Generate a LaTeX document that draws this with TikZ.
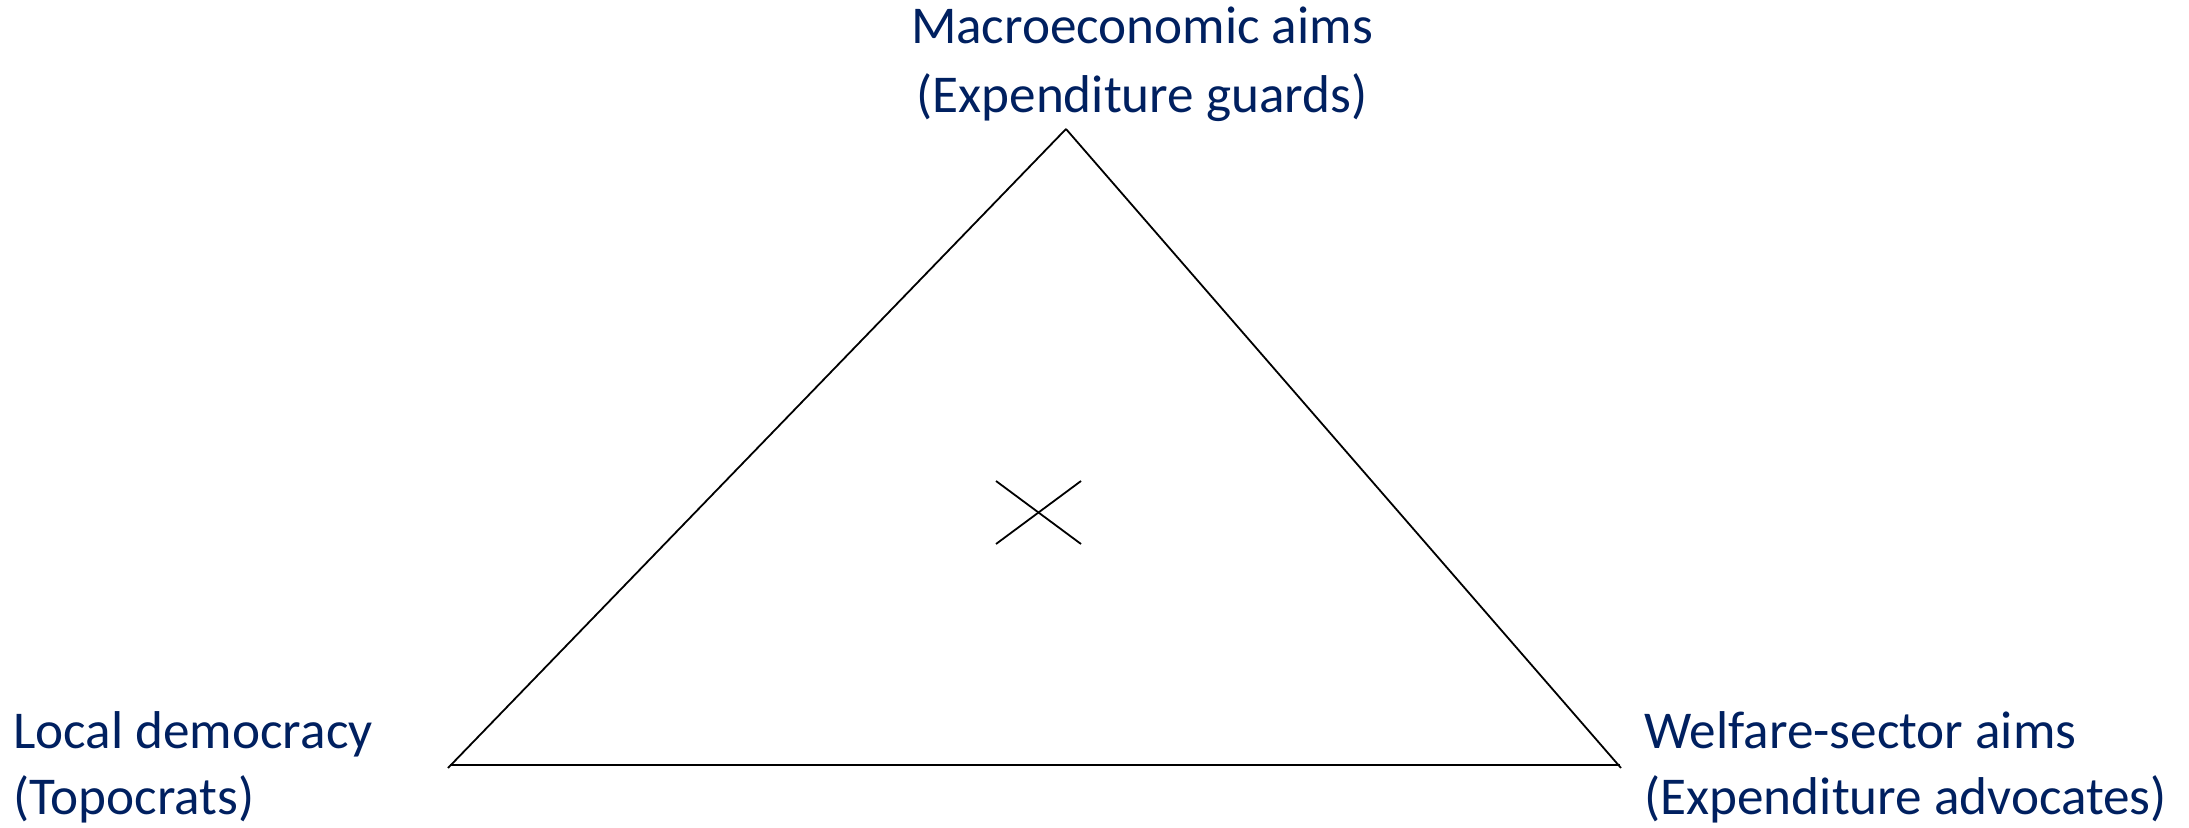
\documentclass[tikz,border=0pt]{standalone}
\usepackage{fontspec}
\setmainfont{Carlito}
\definecolor{navy}{HTML}{002060}
\begin{document}
\begin{tikzpicture}[x=0.5pt,y=-0.5pt,
  lbl/.style={inner sep=0pt,text=navy,font=\fontsize{26.6}{34}\selectfont},
  edge/.style={draw=black,line width=0.9pt}]
\useasboundingbox (0,0) rectangle (2189,828);
% vertices
\coordinate (apex) at (1066,129);
\coordinate (bl) at (448,768);
\coordinate (br) at (1621,768);
\coordinate (bl2) at (450,765);
\coordinate (br2) at (1620,765);
\coordinate (c1) at (996,481);
\coordinate (c2) at (1081,544);
\coordinate (c3) at (996,544);
\coordinate (c4) at (1081,481);
\draw[edge] (apex) -- (bl);
\draw[edge] (apex) -- (br);
\draw[edge] (bl2) -- (br2);
\draw[edge] (c1) -- (c2);
\draw[edge] (c3) -- (c4);
% labels
\node[lbl,anchor=base] (t1) at (1142,44) {Macroeconomic aims};
\node[lbl,anchor=base] (t2) at (1142,113) {(Expenditure guards)};
\node[lbl,anchor=base west] (l1) at (13,748) {Local democracy};
\node[lbl,anchor=base west] (l2) at (13,814) {(Topocrats)};
\node[lbl,anchor=base west] (r1) at (1644,748) {Welfare-sector aims};
\node[lbl,anchor=base west] (r2) at (1644,814) {(Expenditure advocates)};
\end{tikzpicture}
\end{document}
